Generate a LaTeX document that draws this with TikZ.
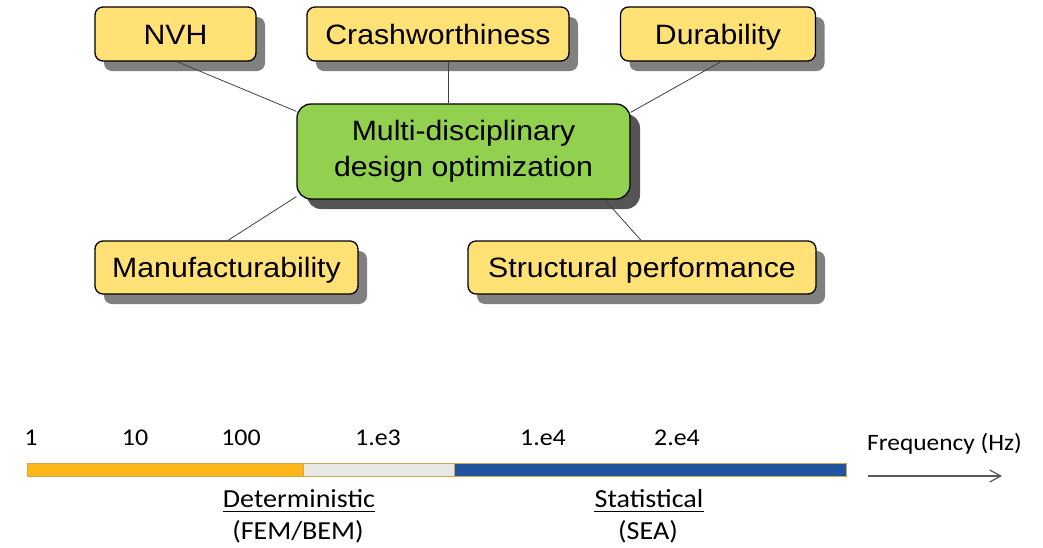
\documentclass[tikz,border=0pt]{standalone}
\usepackage{fontspec}
\setmainfont[FakeStretch=1.08]{Liberation Sans}
\newfontfamily\calfont[FakeStretch=1.08]{Carlito}
\usetikzlibrary{shadows,arrows.meta}
\definecolor{boxyellow}{HTML}{FFE175}
\definecolor{boxgreen}{HTML}{92D050}
\definecolor{shadowgray}{HTML}{808080}
\definecolor{shadowdark}{HTML}{555555}
\definecolor{barorange}{HTML}{FDB71B}
\definecolor{bargray}{HTML}{E7E8E6}
\definecolor{barblue}{HTML}{2153A0}
\definecolor{baredge}{HTML}{D6A54A}
\definecolor{linegray}{HTML}{404040}
\definecolor{arrowgray}{HTML}{595959}
\begin{document}
\begin{tikzpicture}[x=1pt,y=-1pt,
  topic/.style={draw=black, line width=1.3pt, fill=boxyellow, rounded corners=8pt,
    minimum height=54pt, inner sep=0pt, text height=20pt, text depth=0pt,
    font=\fontsize{28}{36}\selectfont,
    drop shadow={shadow xshift=9pt, shadow yshift=-10pt, fill=shadowgray, opacity=1}},
  hub/.style={draw=black, line width=1.3pt, fill=boxgreen, rounded corners=14pt,
    minimum width=333pt, minimum height=95pt, inner sep=0pt, align=center,
    font=\fontsize{28}{36}\selectfont,
    drop shadow={shadow xshift=10pt, shadow yshift=-10pt, fill=shadowdark, opacity=1}},
  link/.style={draw=linegray, line width=0.8pt},
  barseg/.style={draw=baredge, line width=1pt, minimum height=13pt, inner sep=0pt},
  ticklabel/.style={font=\calfont\fontsize{24}{28}\selectfont, inner sep=0pt, anchor=base},
  classlabel/.style={font=\calfont\fontsize{26}{30}\selectfont, inner sep=0pt, anchor=base},
  axislabel/.style={font=\calfont\fontsize{23.5}{27}\selectfont, inner sep=0pt, anchor=base west},
  uline/.style={line width=1.4pt, black},
  freqarrow/.style={draw=arrowgray, line width=1.2pt, -{Straight Barb[length=11pt,width=12pt]}}
]
\useasboundingbox (0,0) rectangle (1043,547);

\node[hub] (hub) at (463.5,151.5) {Multi-disciplinary\\design optimization};
\node[topic, minimum width=161pt] (nvh) at (175.5,34) {NVH};
\node[topic, minimum width=262pt] (crash) at (438,34) {Crashworthiness};
\node[topic, minimum width=195pt] (dura) at (718,34) {Durability};
\node[topic, minimum width=263pt, minimum height=53pt] (manu) at (226.5,267.5) {Manufacturability};
\node[topic, minimum width=348pt, minimum height=53pt] (struct) at (642,267.5) {Structural performance};

\draw[link] ([xshift=1.5pt]nvh.south) -- ([yshift=-8pt]hub.north west);
\draw[link] ([xshift=10pt]crash.south) -- ([xshift=10pt]crash.south |- hub.north);
\draw[link] ([xshift=3pt]dura.south) -- ([yshift=-9pt]hub.north east);
\draw[link] ([xshift=1.5pt]manu.north) -- ([yshift=3pt]hub.south west);
\draw[link] ([xshift=-1pt]struct.north) -- ([xshift=-26pt]hub.south east);

% frequency bar
\node[barseg, fill=barorange, minimum width=276pt] (seg1) at (165,469.5) {};
\node[barseg, fill=bargray, minimum width=151pt] (seg2) at (378.5,469.5) {};
\node[barseg, fill=barblue, minimum width=392pt] (seg3) at (650,469.5) {};

\node[ticklabel] (t1) at (31,445) {1};
\node[ticklabel] (t2) at (135,445) {10};
\node[ticklabel] (t3) at (241,445) {100};
\node[ticklabel] (t4) at (378,445) {1.e3};
\node[ticklabel] (t5) at (543,445) {1.e4};
\node[ticklabel] (t6) at (677,445) {2.e4};

\node[axislabel] (freq) at (867,450) {Frequency (Hz)};
\coordinate (fa) at (868,476);
\coordinate (fb) at (1002,476);
\draw[freqarrow] (fa) -- (fb);

\node[classlabel] (det) at (299,507) {Deterministic};
\draw[uline] ([yshift=-4.5pt]det.base west) -- ([yshift=-4.5pt]det.base east);
\node[classlabel] (detsub) at (298,539) {(FEM/BEM)};
\node[classlabel] (stat) at (649,507) {Statistical};
\draw[uline] ([yshift=-4.5pt]stat.base west) -- ([yshift=-4.5pt]stat.base east);
\node[classlabel] (statsub) at (648,539) {(SEA)};
\end{tikzpicture}
\end{document}
